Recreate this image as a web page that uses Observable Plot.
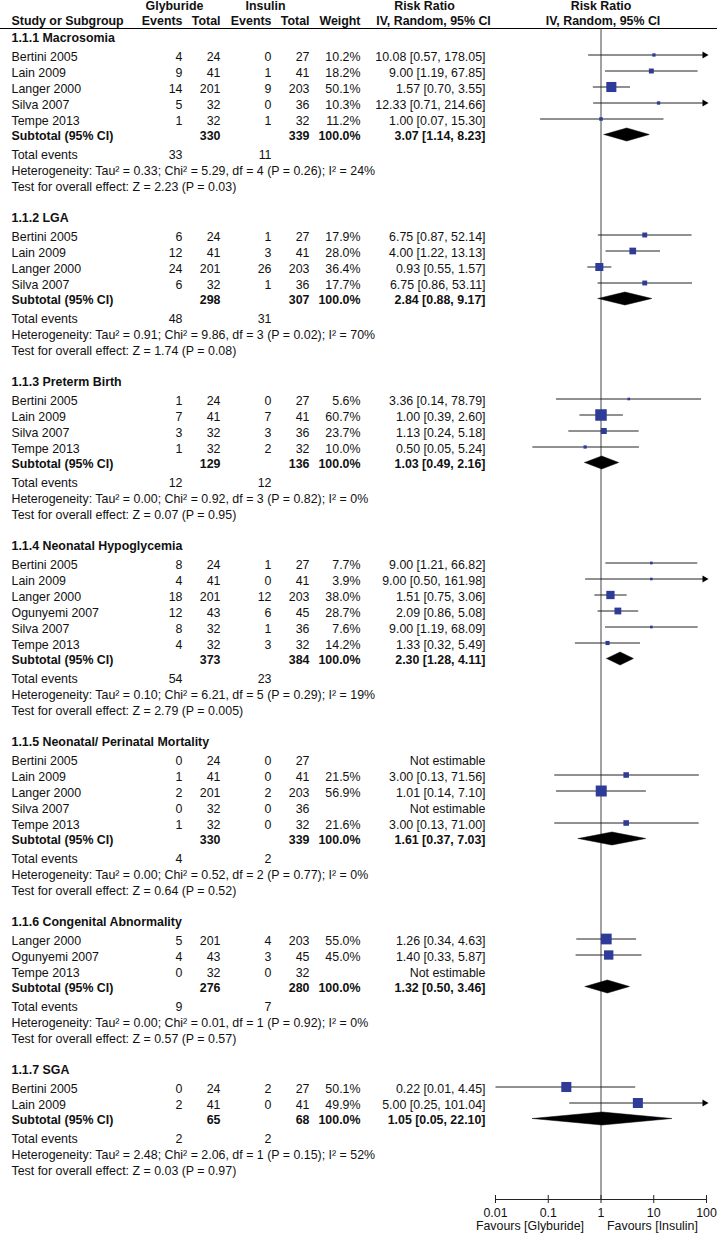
<!DOCTYPE html>
<html><head><meta charset="utf-8">
<script src="https://cdn.jsdelivr.net/npm/d3@7"></script>
<script src="https://cdn.jsdelivr.net/npm/@observablehq/plot@0.6"></script>
<style>
html,body{margin:0;padding:0;background:#fff;}
#wrap{position:relative;width:717px;height:1233px;background:#fff;}
#wrap svg{position:absolute;left:0;top:0;}
</style></head><body><div id="wrap"></div>
<script>
// ---------------- data ----------------
const sectionTitles = ["1.1.1 Macrosomia", "1.1.2 LGA", "1.1.3 Preterm Birth", "1.1.4 Neonatal Hypoglycemia",
  "1.1.5 Neonatal/ Perinatal Mortality", "1.1.6 Congenital Abnormality", "1.1.7 SGA"];
const studySection = [0,0,0,0,0, 1,1,1,1, 2,2,2,2, 3,3,3,3,3,3, 4,4,4,4,4, 5,5,5, 6,6];
const studyNames = [
  "Bertini 2005","Lain 2009","Langer 2000","Silva 2007","Tempe 2013",
  "Bertini 2005","Lain 2009","Langer 2000","Silva 2007",
  "Bertini 2005","Lain 2009","Silva 2007","Tempe 2013",
  "Bertini 2005","Lain 2009","Langer 2000","Ogunyemi 2007","Silva 2007","Tempe 2013",
  "Bertini 2005","Lain 2009","Langer 2000","Silva 2007","Tempe 2013",
  "Langer 2000","Ogunyemi 2007","Tempe 2013",
  "Bertini 2005","Lain 2009"];
const glyEvents = [4,9,14,5,1, 6,12,24,6, 1,7,3,1, 8,4,18,12,8,4, 0,1,2,0,1, 5,4,0, 0,2];
const glyTotal  = [24,41,201,32,32, 24,41,201,32, 24,41,32,32, 24,41,201,43,32,32, 24,41,201,32,32, 201,43,32, 24,41];
const insEvents = [0,1,9,0,1, 1,3,26,1, 0,7,3,2, 1,0,12,6,1,3, 0,0,2,0,0, 4,3,0, 2,0];
const insTotal  = [27,41,203,36,32, 27,41,203,36, 27,41,36,32, 27,41,203,45,36,32, 27,41,203,36,32, 203,45,32, 27,41];
const weights   = [10.2,18.2,50.1,10.3,11.2, 17.9,28.0,36.4,17.7, 5.6,60.7,23.7,10.0,
  7.7,3.9,38.0,28.7,7.6,14.2, null,21.5,56.9,null,21.6, 55.0,45.0,null, 50.1,49.9];
const riskRatio = [10.08,9.00,1.57,12.33,1.00, 6.75,4.00,0.93,6.75, 3.36,1.00,1.13,0.50,
  9.00,9.00,1.51,2.09,9.00,1.33, null,3.00,1.01,null,3.00, 1.26,1.40,null, 0.22,5.00];
const ciLow  = [0.57,1.19,0.70,0.71,0.07, 0.87,1.22,0.55,0.86, 0.14,0.39,0.24,0.05,
  1.21,0.50,0.75,0.86,1.19,0.32, null,0.13,0.14,null,0.13, 0.34,0.33,null, 0.01,0.25];
const ciHigh = [178.05,67.85,3.55,214.66,15.30, 52.14,13.13,1.57,53.11, 78.79,2.60,5.18,5.24,
  66.82,161.98,3.06,5.08,68.09,5.49, null,71.56,7.10,null,71.00, 4.63,5.87,null, 4.45,101.04];

const subGlyTotal = [330,298,129,373,330,276,65];
const subInsTotal = [339,307,136,384,339,280,68];
const subRR   = [3.07,2.84,1.03,2.30,1.61,1.32,1.05];
const subLow  = [1.14,0.88,0.49,1.28,0.37,0.50,0.05];
const subHigh = [8.23,9.17,2.16,4.11,7.03,3.46,22.10];
const totGlyEvents = [33,48,12,54,4,9,2];
const totInsEvents = [11,31,12,23,2,7,2];
const tau2 = [0.33,0.91,0.00,0.10,0.00,0.00,2.48];
const chi2 = [5.29,9.86,0.92,6.21,0.52,0.01,2.06];
const dfHet = [4,3,3,5,2,1,1];
const pHet = [0.26,0.02,0.82,0.29,0.77,0.92,0.15];
const iSq = [24,70,0,19,0,0,52];
const zVal = [2.23,1.74,0.07,2.79,0.64,0.57,0.03];
const pZ = ["0.03","0.08","0.95","0.005","0.52","0.57","0.97"];

const axisTicks = [0.01, 0.1, 1, 10, 100];
const axisTickLabels = ["0.01", "0.1", "1", "10", "100"];

// ---------------- layout ----------------
const W = 717, H = 1233;
const FONT = "'Liberation Sans', Arial, Helvetica, sans-serif";
const FS = 12.4;
const col = {name: 11, gEv: 182, gTot: 220, iEv: 271, iTot: 309, wt: 360, ci: 485};
const cells = [];
const cell = (x, y, text, anchor, bold) => cells.push({x, y, text: String(text), anchor, bold});
const f2 = v => v.toFixed(2);

// header
cell(174, 6, "Glyburide", "middle", true);
cell(265, 6, "Insulin", "middle", true);
cell(424, 6, "Risk Ratio", "middle", true);
cell(col.name, 21, "Study or Subgroup", "start", true);
cell(col.gEv, 21, "Events", "end", true);
cell(col.gTot, 21, "Total", "end", true);
cell(col.iEv, 21, "Events", "end", true);
cell(col.iTot, 21, "Total", "end", true);
cell(col.wt, 21, "Weight", "end", true);
cell(433, 21, "IV, Random, 95% CI", "middle", true);

const studyRows = [];
const subRows = [];
let y = 38;
sectionTitles.forEach((title, s) => {
  cell(col.name, y, title, "start", true);
  y += 19;
  const idx = studyNames.map((_, i) => i).filter(i => studySection[i] === s);
  idx.forEach((i, k) => {
    if (k > 0) y += 16;
    cell(col.name, y, studyNames[i], "start", false);
    cell(col.gEv, y, glyEvents[i], "end", false);
    cell(col.gTot, y, glyTotal[i], "end", false);
    cell(col.iEv, y, insEvents[i], "end", false);
    cell(col.iTot, y, insTotal[i], "end", false);
    if (weights[i] != null) {
      cell(col.wt, y, weights[i].toFixed(1) + "%", "end", false);
      cell(col.ci, y, `${f2(riskRatio[i])} [${f2(ciLow[i])}, ${f2(ciHigh[i])}]`, "end", false);
      studyRows.push({rr: riskRatio[i], lo: ciLow[i], hi: ciHigh[i], w: weights[i], y: y - 2.5});
    } else {
      cell(col.ci, y, "Not estimable", "end", false);
    }
  });
  y += 15;
  cell(col.name, y, "Subtotal (95% CI)", "start", true);
  cell(col.gTot, y, subGlyTotal[s], "end", true);
  cell(col.iTot, y, subInsTotal[s], "end", true);
  cell(col.wt, y, "100.0%", "end", true);
  cell(col.ci, y, `${f2(subRR[s])} [${f2(subLow[s])}, ${f2(subHigh[s])}]`, "end", true);
  subRows.push({s, rr: subRR[s], lo: subLow[s], hi: subHigh[s], y: y - 2});
  y += 19;
  cell(col.name, y, "Total events", "start", false);
  cell(col.gEv, y, totGlyEvents[s], "end", false);
  cell(col.iEv, y, totInsEvents[s], "end", false);
  y += 16;
  cell(col.name, y, `Heterogeneity: Tau² = ${f2(tau2[s])}; Chi² = ${f2(chi2[s])}, df = ${dfHet[s]} (P = ${f2(pHet[s])}); I² = ${iSq[s]}%`, "start", false);
  y += 16;
  cell(col.name, y, `Test for overall effect: Z = ${f2(zVal[s])} (P = ${pZ[s]})`, "start", false);
  y += 31;
});

// ---------------- table plot ----------------
const tableMarks = [Plot.ruleY([28], {stroke: "#000", strokeWidth: 1.2})];
for (const anchor of ["start", "middle", "end"]) {
  for (const bold of [true, false]) {
    tableMarks.push(Plot.text(cells.filter(c => c.anchor === anchor && c.bold === bold), {
      x: "x", y: "y", text: "text", textAnchor: anchor,
      fontWeight: bold ? "bold" : "normal", fontSize: FS, fill: "#111"
    }));
  }
}
const table = Plot.plot({
  width: W, height: H, margin: 0,
  x: {domain: [0, W], range: [0, W], axis: null},
  y: {domain: [0, H], range: [0, H], axis: null},
  style: {fontFamily: FONT, fontSize: FS + "px", background: "white", overflow: "visible"},
  marks: tableMarks
});

// ---------------- forest plot ----------------
const AXIS_Y = 1199;
const XMIN = 0.01, XMAX = 100;
const lines = studyRows.map(d => ({...d, x1: Math.max(d.lo, XMIN), x2: Math.min(d.hi, XMAX)}));
const arrows = studyRows.filter(d => d.hi > XMAX);
const diamonds = subRows.flatMap(d => [
  {s: d.s, x: d.lo, y: d.y}, {s: d.s, x: d.rr, y: d.y - 6.5},
  {s: d.s, x: d.hi, y: d.y}, {s: d.s, x: d.rr, y: d.y + 6.5}, {s: d.s, x: d.lo, y: d.y}
]);
const squareSide = w => Math.max(2.6, 0.65 * Math.pow(w, 0.7));

const forest = Plot.plot({
  width: W, height: H, margin: 0,
  x: {type: "log", domain: [XMIN, XMAX], range: [495, 706], axis: null},
  y: {domain: [0, H], range: [0, H], axis: null},
  r: {type: "identity"},
  style: {fontFamily: FONT, fontSize: FS + "px", background: "transparent", overflow: "visible"},
  marks: [
    Plot.ruleX([1], {y1: 28, y2: AXIS_Y, stroke: "#444", strokeWidth: 1}),
    Plot.link(lines, {x1: "x1", x2: "x2", y1: "y", y2: "y", stroke: "#222", strokeWidth: 1}),
    Plot.dot(arrows, {x: XMAX, y: "y", dx: -2, symbol: "triangle", rotate: 90, r: 2.6, fill: "#000", stroke: "none"}),
    Plot.dot(studyRows, {x: "rr", y: "y", symbol: "square", r: d => squareSide(d.w) / Math.sqrt(Math.PI), fill: "#2e3b98", stroke: "none"}),
    Plot.line(diamonds, {x: "x", y: "y", z: "s", fill: "#000", stroke: "#000", strokeWidth: 0.5}),
    // axis
    Plot.ruleY([AXIS_Y], {x1: XMIN, x2: XMAX, stroke: "#222", strokeWidth: 1}),
    Plot.ruleX(axisTicks, {y1: AXIS_Y - 4, y2: AXIS_Y + 4, stroke: "#222", strokeWidth: 1}),
    Plot.text(axisTicks, {x: d => d, y: 1213, text: (d, i) => axisTickLabels[i], fontSize: FS, fill: "#111"}),
    Plot.text(["Favours [Glyburide]"], {x: 1, y: 1226, text: d => d, textAnchor: "end", dx: -17, fontSize: FS, fill: "#111"}),
    Plot.text(["Favours [Insulin]"], {x: 1, y: 1226, text: d => d, textAnchor: "start", dx: 6, fontSize: FS, fill: "#111"}),
    // header of the plot column
    Plot.text(["Risk Ratio"], {x: 1, y: 6, text: d => d, fontWeight: "bold", fontSize: FS, fill: "#111"}),
    Plot.text(["IV, Random, 95% CI"], {x: 1, y: 21, dx: 2, text: d => d, fontWeight: "bold", fontSize: FS, fill: "#111"})
  ]
});

const wrap = document.getElementById("wrap");
wrap.appendChild(table);
wrap.appendChild(forest);
</script>
</body></html>
